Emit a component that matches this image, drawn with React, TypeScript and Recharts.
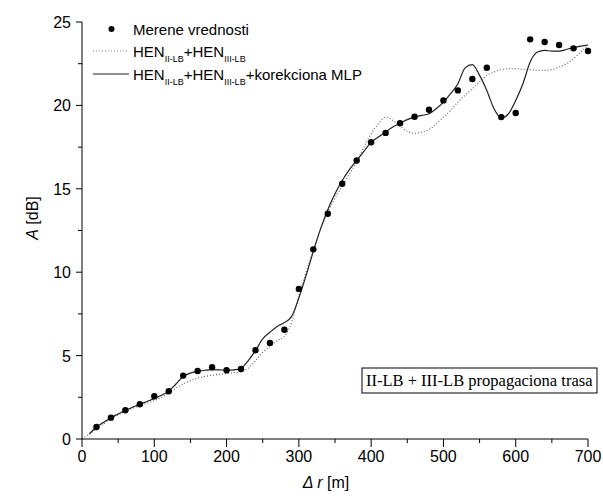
import { ComposedChart, Line, Scatter, XAxis, YAxis } from 'recharts'

// measured points (Merene vrednosti)
const measuredR = [20, 40, 60, 80, 100, 120, 140, 160, 180, 200, 220, 240, 260, 280, 300, 320, 340, 360, 380, 400, 420, 440, 460, 480, 500, 520, 540, 560, 580, 600, 620, 640, 660, 680, 700]
const measuredA = [0.72, 1.28, 1.72, 2.08, 2.56, 2.86, 3.8, 4.08, 4.3, 4.12, 4.2, 5.32, 5.76, 6.55, 9.0, 11.37, 13.5, 15.3, 16.7, 17.79, 18.35, 18.93, 19.32, 19.74, 20.3, 20.9, 21.58, 22.26, 19.3, 19.54, 23.96, 23.8, 23.62, 23.42, 23.26]

// model curves, read every 10 m
const curveR = [0, 10, 20, 30, 40, 50, 60, 70, 80, 90, 100, 110, 120, 130, 140, 150, 160, 170, 180, 190, 200, 210, 220, 230, 240, 250, 260, 270, 280, 290, 300, 310, 320, 330, 340, 350, 360, 370, 380, 390, 400, 410, 420, 430, 440, 450, 460, 470, 480, 490, 500, 510, 520, 530, 540, 550, 560, 570, 580, 590, 600, 610, 620, 630, 640, 650, 660, 670, 680, 690, 700]
const henA = [0, 0.3, 0.6, 0.9, 1.2, 1.45, 1.65, 1.85, 2.0, 2.15, 2.3, 2.5, 2.75, 3.05, 3.3, 3.5, 3.65, 3.75, 3.82, 3.87, 3.92, 3.97, 4.05, 4.25, 4.7, 5.2, 5.55, 5.9, 6.15, 7.0, 8.6, 10.0, 11.3, 12.6, 13.6, 14.45, 15.15, 15.9, 16.6, 17.5, 18.3, 18.9, 19.3, 19.1, 18.75, 18.45, 18.33, 18.4, 18.55, 18.9, 19.3, 19.7, 20.2, 20.6, 21.0, 21.4, 21.8, 22.0, 22.15, 22.2, 22.2, 22.17, 22.15, 22.1, 22.1, 22.15, 22.3, 22.5, 22.8, 23.2, 23.6]
const mlpA = [null, 0.3, 0.72, 1.0, 1.28, 1.5, 1.72, 1.9, 2.08, 2.25, 2.42, 2.62, 2.87, 3.3, 3.75, 3.95, 4.05, 4.12, 4.16, 4.15, 4.12, 4.14, 4.25, 4.7, 5.3, 6.0, 6.4, 6.75, 6.98, 7.35, 8.45, 9.8, 11.25, 12.6, 13.75, 14.7, 15.5, 16.15, 16.7, 17.25, 17.79, 18.1, 18.4, 18.7, 18.93, 19.15, 19.3, 19.4, 19.5, 19.8, 20.2, 20.7, 21.3, 22.25, 22.45, 21.8, 20.9, 19.8, 19.25, 19.5, 20.3, 21.3, 22.6, 23.2, 23.3, 23.25, 23.25, 23.35, 23.48, 23.55, 23.62]

const xTicks = [0, 50, 100, 150, 200, 250, 300, 350, 400, 450, 500, 550, 600, 650, 700]
const yTicks = [0, 2.5, 5, 7.5, 10, 12.5, 15, 17.5, 20, 22.5, 25]

const measured = measuredR.map((r, i) => ({ r, a: measuredA[i] }))
const hen = curveR.map((r, i) => ({ r, a: henA[i] }))
const mlp = curveR.map((r, i) => ({ r, a: mlpA[i] })).filter((d) => d.a !== null)

const sans = 'Liberation Sans, Arial, sans-serif'

const YTick = (props: any) => {
  const { x, y, payload } = props
  const major = payload.value % 5 === 0
  return (
    <g>
      <line x1={x - (major ? 6 : 4)} y1={y} x2={x} y2={y} stroke="#000" />
      {major && (
        <text x={x - 11} y={y + 6} textAnchor="end" fontSize={16} fontFamily={sans} fill="#000">
          {payload.value}
        </text>
      )}
    </g>
  )
}

const XTick = (props: any) => {
  const { x, y, payload } = props
  const major = payload.value % 100 === 0
  return (
    <g>
      <line x1={x} y1={y} x2={x} y2={y + (major ? 8 : 4)} stroke="#000" />
      {major && (
        <text x={x} y={y + 23} textAnchor="middle" fontSize={16} fontFamily={sans} fill="#000">
          {payload.value}
        </text>
      )}
    </g>
  )
}

const Dot = (props: any) => <circle cx={props.cx} cy={props.cy} r={3.2} fill="#000" />

export default function App() {
  return (
    <div style={{ position: 'absolute', left: 0, top: 0, width: 603, height: 501, background: '#fff' }}>
      <ComposedChart width={603} height={501} margin={{ top: 22, right: 15, bottom: 0, left: 0 }}>
        <XAxis
          dataKey="r"
          type="number"
          domain={[0, 700]}
          ticks={xTicks}
          interval={0}
          height={62}
          stroke="#000"
          tickLine={false}
          tickSize={0}
          tickMargin={0}
          tick={<XTick />}
        />
        <YAxis
          dataKey="a"
          type="number"
          domain={[0, 25]}
          ticks={yTicks}
          interval={0}
          width={82}
          stroke="#000"
          tickLine={false}
          tickSize={0}
          tickMargin={0}
          tick={<YTick />}
        />
        <Line
          data={hen}
          dataKey="a"
          type="monotone"
          stroke="#666"
          strokeWidth={1.2}
          strokeDasharray="1 2"
          dot={false}
          isAnimationActive={false}
        />
        <Line
          data={mlp}
          dataKey="a"
          type="monotone"
          stroke="#222"
          strokeWidth={1.2}
          dot={false}
          isAnimationActive={false}
        />
        <Scatter data={measured} dataKey="a" shape={<Dot />} isAnimationActive={false} />
      </ComposedChart>

      {/* legend, axis titles and the route label */}
      <svg width={603} height={501} style={{ position: 'absolute', left: 0, top: 0, pointerEvents: 'none' }}>
        <circle cx={111.5} cy={29} r={3} fill="#000" />
        <text x={133} y={34.5} fontSize={15} fontFamily={sans}>Merene vrednosti</text>

        <line x1={93} y1={51} x2={129} y2={51} stroke="#777" strokeDasharray="1 2" />
        <text x={133} y={56.5} fontSize={15} fontFamily={sans}>
          HEN<tspan fontSize={9} dy={5}>II-LB</tspan>
          <tspan dy={-5}>+HEN</tspan>
          <tspan fontSize={9} dy={5}>III-LB</tspan>
        </text>

        <line x1={93} y1={74} x2={129} y2={74} stroke="#222" />
        <text x={133} y={79.5} fontSize={15} fontFamily={sans}>
          HEN<tspan fontSize={9} dy={5}>II-LB</tspan>
          <tspan dy={-5}>+HEN</tspan>
          <tspan fontSize={9} dy={5}>III-LB</tspan>
          <tspan dy={-5}>+korekciona MLP</tspan>
        </text>

        <rect x={362} y={368} width={235} height={25} fill="#fff" stroke="#000" />
        <text x={366} y={386} fontSize={16.5} fontFamily="Liberation Serif, Times New Roman, serif">
          II-LB + III-LB propagaciona trasa
        </text>

        <text x={33} y={218} transform="rotate(-90 33 218)" textAnchor="middle" dy={5} fontSize={16} fontFamily={sans}>
          <tspan fontStyle="italic">A</tspan> [dB]
        </text>
        <text x={326} y={488} textAnchor="middle" fontSize={16} fontFamily={sans}>
          <tspan fontStyle="italic">Δ r</tspan> [m]
        </text>
      </svg>
    </div>
  )
}
